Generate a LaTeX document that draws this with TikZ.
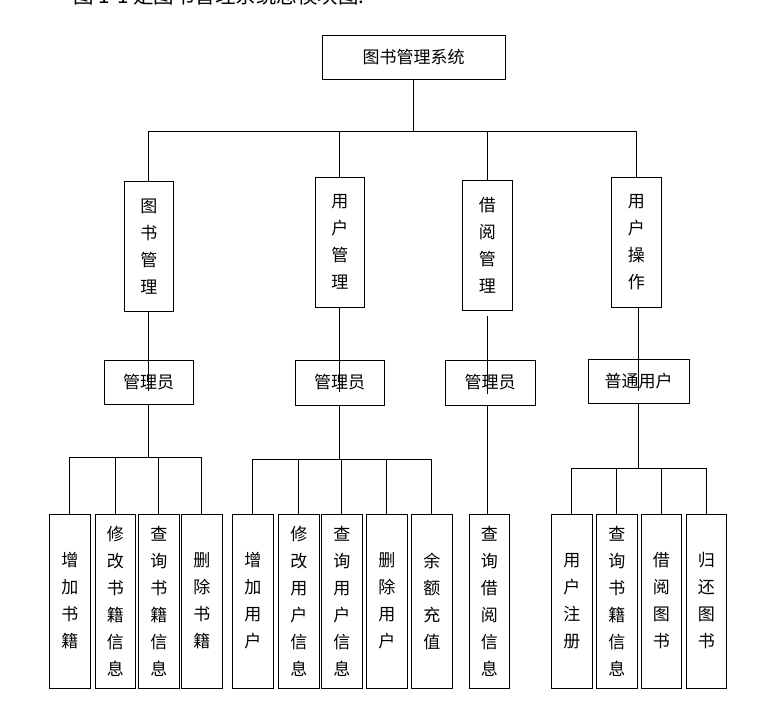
\documentclass[tikz,border=0pt]{standalone}
\usepackage{fontspec}
\newfontfamily\cjk{Noto Sans CJK SC}
\begin{document}
\begin{tikzpicture}[x=1pt, y=-1pt, line width=0.9pt,
    every node/.style={draw, inner sep=0pt, font=\cjk\fontsize{17}{27}\selectfont},
    modbox/.style={minimum width=49pt, minimum height=130pt, align=center},
    rolebox/.style={minimum width=89pt, minimum height=44pt},
    funcbox/.style={minimum width=41pt, minimum height=174pt, align=center}]
  \useasboundingbox (0,0) rectangle (781,703);
  \node[draw=none, anchor=base west, font=\cjk\fontsize{20.5}{22}\selectfont] (cap) at (73,4) {图 1-1 是图书管理系统总模块图:};
  % top level
  \node[minimum width=183pt, minimum height=44pt] (sys) at (413.5,57) {图书管理系统};
  % modules
  \node[modbox] (tsgl) at (148.8,246.3) {图\\书\\管\\理};
  \node[modbox] (yhgl) at (339.8,242.3) {用\\户\\管\\理};
  \node[modbox, minimum width=50pt] (jygl) at (487.3,245.3) {借\\阅\\管\\理};
  \node[modbox, minimum width=50pt] (yhcz) at (636.3,242.3) {用\\户\\操\\作};
  % roles
  \node[rolebox] (gly1) at (148.5,382) {管理员};
  \node[rolebox, minimum height=45pt] (gly2) at (339.5,382.5) {管理员};
  \node[rolebox, minimum width=90pt, minimum height=45pt] (gly3) at (490,382.5) {管理员};
  \node[rolebox, minimum width=101pt] (ptyh) at (638.5,381.5) {普通用户};
  % functions
  \node[funcbox] (zjsj) at (69.8,601) {增\\加\\书\\籍};
  \node[funcbox, minimum width=40pt] (xgsj) at (115.3,601) {修\\改\\书\\籍\\信\\息};
  \node[funcbox] (cxsj) at (158.8,601) {查\\询\\书\\籍\\信\\息};
  \node[funcbox] (scsj) at (201.8,601) {删\\除\\书\\籍};
  \node[funcbox] (zjyh) at (252.8,601) {增\\加\\用\\户};
  \node[funcbox] (xgyh) at (298.8,601) {修\\改\\用\\户\\信\\息};
  \node[funcbox] (cxyh) at (341.8,601) {查\\询\\用\\户\\信\\息};
  \node[funcbox] (scyh) at (386.8,601) {删\\除\\用\\户};
  \node[funcbox] (yecz) at (431.8,601) {余\\额\\充\\值};
  \node[funcbox, minimum width=40pt] (cxjy) at (489.3,601) {查\\询\\借\\阅\\信\\息};
  \node[funcbox] (yhzc) at (571.8,601) {用\\户\\注\\册};
  \node[funcbox] (cxsj2) at (616.8,601) {查\\询\\书\\籍\\信\\息};
  \node[funcbox, minimum width=40pt] (jyts) at (661.3,601) {借\\阅\\图\\书};
  \node[funcbox, minimum width=40pt] (ghts) at (706.3,601) {归\\还\\图\\书};
  % system -> modules
  \draw (sys.south) -- ++(0,52) -| (tsgl.north);
  \draw (sys.south) -- ++(0,52) -| (yhgl.north);
  \draw (sys.south) -- ++(0,52) -| (jygl.north);
  \draw (sys.south) -- ++(0,52) -| (yhcz.north);
  % modules -> roles
  \draw (tsgl.south) -- (tsgl.south |- gly1.center) -- ++(0,9);
  \draw (yhgl.south) -- (yhgl.south |- gly2.center) -- ++(0,9);
  \draw ([yshift=-5pt]jygl.south) -- (jygl.south |- gly3.center) -- ++(0,11);
  \draw (ptyh.center |- yhcz.south) -- (ptyh.center) -- ++(0,9.5);
  % roles -> functions
  \draw (gly1.south) -- ++(0,53) -| (zjsj.north);
  \draw (gly1.south) -- ++(0,53) -| (xgsj.north);
  \draw (gly1.south) -- ++(0,53) -| (cxsj.north);
  \draw (gly1.south) -- ++(0,53) -| (scsj.north);
  \draw (gly2.south) -- ++(0,54) -| (zjyh.north);
  \draw (gly2.south) -- ++(0,54) -| (xgyh.north);
  \draw (gly2.south) -- ++(0,54) -| (cxyh.north);
  \draw (gly2.south) -- ++(0,54) -| (scyh.north);
  \draw (gly2.south) -- ++(0,54) -| (yecz.north);
  \draw (jygl.south |- gly3.south) -- (jygl.south |- cxjy.north);
  \draw (ptyh.south) -- ++(0,64) -| (yhzc.north);
  \draw (ptyh.south) -- ++(0,64) -| (cxsj2.north);
  \draw (ptyh.south) -- ++(0,64) -| (jyts.north);
  \draw (ptyh.south) -- ++(0,64) -| (ghts.north);
\end{tikzpicture}
\end{document}
